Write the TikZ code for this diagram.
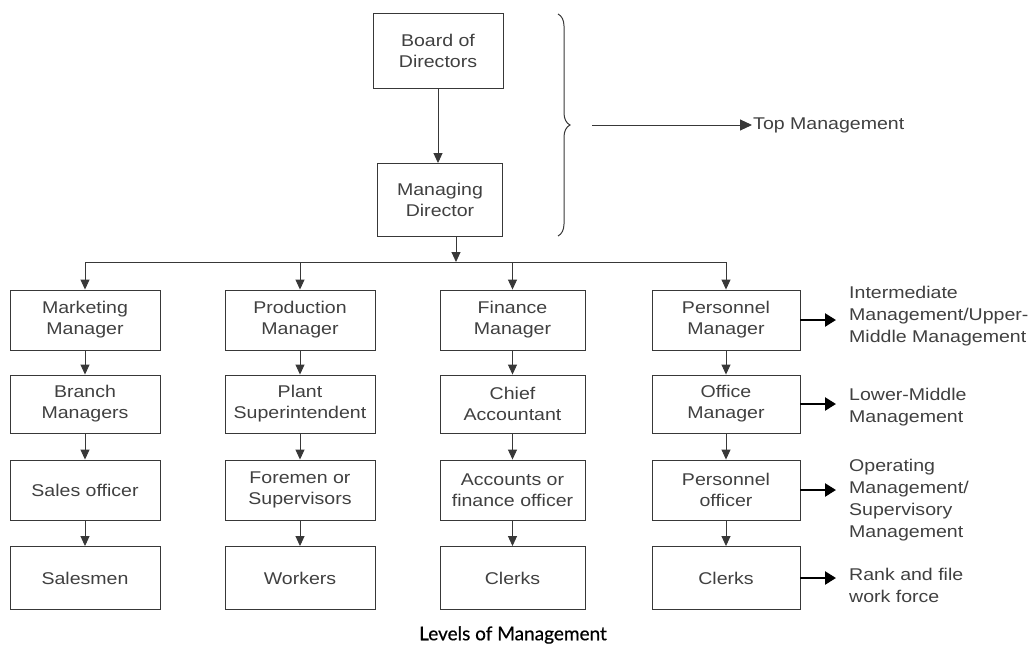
\documentclass[tikz,border=0pt]{standalone}
\usepackage{fontspec}
\setmainfont[FakeStretch=1.15]{Liberation Sans}
\newfontfamily\capfont[FakeBold=0.5]{Lato}
\usetikzlibrary{arrows.meta,decorations.pathreplacing,calc}
\definecolor{ln}{gray}{0.22}
\definecolor{tx}{gray}{0.25}
\begin{document}
\begin{tikzpicture}[x=1pt,y=-1pt,
  box/.style={draw=ln,line width=0.9pt,rectangle,align=center,text=tx,
    font=\fontsize{17}{21}\selectfont,inner sep=0pt},
  arr/.style={draw=ln,line width=0.9pt,-{Triangle[length=10pt,width=9pt]}},
  sidearr/.style={draw=black,line width=2.4pt,-{Triangle[length=11pt,width=13pt]}},
  lbl/.style={anchor=west,align=left,text=tx,font=\fontsize{17}{22}\selectfont,inner sep=1pt}]
\useasboundingbox (0,0) rectangle (1034,651);
% top
\node[box,minimum width=130pt,minimum height=75pt] (bod) at (438,51) {Board of\\Directors};
\node[box,minimum width=125pt,minimum height=73pt] (md) at (440,200) {Managing\\Director};
\draw[arr] (bod.south) -- (bod.south |- md.north);
% brace
\draw[ln,line width=1pt,decorate,decoration={brace,amplitude=12pt}] (558,14) -- (558,236);
\coordinate (bt) at (592,125);
\node[lbl] (tm) at (752,125) {Top Management};
\draw[draw=ln,line width=1pt,-{Triangle[length=12pt,width=11pt]}] (bt) -- (tm.west);
% bus
\coordinate (bus) at (456,262);
% row 1
\node[box,minimum width=150pt,minimum height=60pt] (a1) at (85,320) {Marketing\\Manager};
\node[box,minimum width=150pt,minimum height=60pt] (b1) at (300,320) {Production\\Manager};
\node[box,minimum width=145pt,minimum height=60pt] (c1) at (512.5,320) {Finance\\Manager};
\node[box,minimum width=148pt,minimum height=60pt] (d1) at (726,320) {Personnel\\Manager};
% row 2
\node[box,minimum width=150pt,minimum height=58pt] (a2) at (85,404) {Branch\\Managers};
\node[box,minimum width=150pt,minimum height=58pt] (b2) at (300,404) {Plant\\Superintendent};
\node[box,minimum width=145pt,minimum height=58pt] (c2) at (512.5,404) {Chief\\Accountant};
\node[box,minimum width=148pt,minimum height=58pt] (d2) at (726,404) {Office\\Manager};
% row 3
\node[box,minimum width=150pt,minimum height=60pt] (a3) at (85,490) {Sales officer};
\node[box,minimum width=150pt,minimum height=60pt] (b3) at (300,490) {Foremen or\\Supervisors};
\node[box,minimum width=145pt,minimum height=60pt] (c3) at (512.5,490) {Accounts or\\finance officer};
\node[box,minimum width=148pt,minimum height=60pt] (d3) at (726,490) {Personnel\\officer};
% row 4
\node[box,minimum width=150pt,minimum height=63pt] (a4) at (85,578) {Salesmen};
\node[box,minimum width=150pt,minimum height=63pt] (b4) at (300,578) {Workers};
\node[box,minimum width=145pt,minimum height=63pt] (c4) at (512.5,578) {Clerks};
\node[box,minimum width=148pt,minimum height=63pt] (d4) at (726,578) {Clerks};
% connectors
\draw[arr] (md.south -| bus) -- (bus);
\draw[ln,line width=0.9pt] (a1.north |- bus) -- (d1.north |- bus);
\foreach \c in {a,b,c,d}{
  \draw[arr] (\c1.north |- bus) -- (\c1.north);
  \draw[arr] (\c1.south) -- (\c2.north);
  \draw[arr] (\c2.south) -- (\c3.north);
  \draw[arr] (\c3.south) -- (\c4.north);
}
% side labels
\node[lbl] (l1) at (848,316) {Intermediate\\Management/Upper-\\Middle Management};
\node[lbl] (l2) at (848,407) {Lower-Middle\\Management};
\node[lbl] (l3) at (848,500) {Operating\\Management/\\Supervisory\\Management};
\node[lbl] (l4) at (848,585) {Rank and file\\work force};
\draw[sidearr,shorten >=12pt] (d1.east) -- (d1.east -| l1.west);
\draw[sidearr,shorten >=12pt] (d2.east) -- (d2.east -| l2.west);
\draw[sidearr,shorten >=12pt] (d3.east) -- (d3.east -| l3.west);
\draw[sidearr,shorten >=12pt] (d4.east) -- (d4.east -| l4.west);
% caption
\node[text=black,font=\capfont\fontsize{19}{22}\selectfont] (cap) at (513,635) {Levels of Management};
\end{tikzpicture}
\end{document}
